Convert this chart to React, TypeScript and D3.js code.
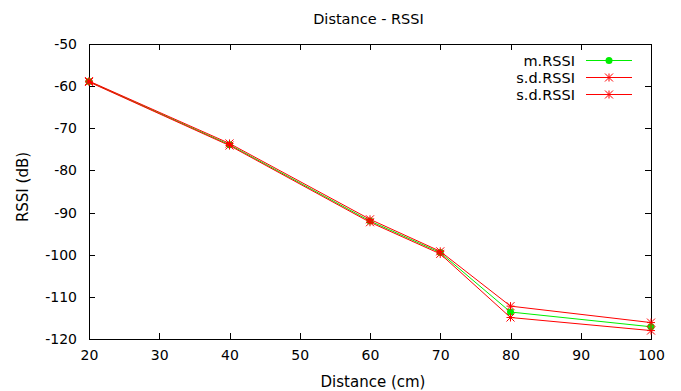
import { useRef, useEffect } from 'react';
import * as d3 from 'd3';

// distance (cm) and RSSI readings (dB)
const distances = [20, 40, 60, 70, 80, 100];
const meanRssi = [-58.9, -73.9, -92.0, -99.5, -113.6, -117.1];
const sdUpper = [-58.8, -73.6, -91.6, -99.2, -112.2, -116.1];
const sdLower = [-59.0, -74.1, -92.3, -99.8, -114.9, -118.0];

const xTicks = [20, 30, 40, 50, 60, 70, 80, 90, 100];
const yTicks = [-50, -60, -70, -80, -90, -100, -110, -120];

const legendLabels = ['m.RSSI', 's.d.RSSI', 's.d.RSSI'];

export default function App() {
  const ref = useRef<SVGSVGElement>(null);

  useEffect(() => {
    if (!ref.current) return;
    const width = 681;
    const height = 391;
    const svg = d3.select(ref.current);
    svg.selectAll('*').remove();

    const font = 'DejaVu Sans, sans-serif';
    const left = 89, right = 651, top = 44, bottom = 339;

    const x = d3.scaleLinear().domain([20, 100]).range([left, right]);
    const y = d3.scaleLinear().domain([-120, -50]).range([bottom, top]);

    svg.append('rect')
      .attr('width', width).attr('height', height).attr('fill', 'white');

    // ticks, mirrored on all sides, pointing inward
    const tl = 6;
    const g = svg.append('g').attr('stroke', 'black').attr('stroke-width', 1);
    xTicks.forEach(t => {
      const px = Math.round(x(t)) + 0.5;
      g.append('line').attr('x1', px).attr('x2', px).attr('y1', bottom).attr('y2', bottom - tl);
      g.append('line').attr('x1', px).attr('x2', px).attr('y1', top).attr('y2', top + tl);
    });
    yTicks.forEach(t => {
      const py = Math.round(y(t)) + 0.5;
      g.append('line').attr('x1', left).attr('x2', left + tl).attr('y1', py).attr('y2', py);
      g.append('line').attr('x1', right).attr('x2', right - tl).attr('y1', py).attr('y2', py);
    });

    svg.append('rect')
      .attr('x', left + 0.5).attr('y', top + 0.5)
      .attr('width', right - left).attr('height', bottom - top)
      .attr('fill', 'none').attr('stroke', 'black').attr('stroke-width', 1);

    const txt = svg.append('g').attr('font-family', font).attr('font-size', 14).attr('fill', 'black');
    xTicks.forEach(t => {
      txt.append('text').attr('x', x(t) + 0.5).attr('y', bottom + 21)
        .attr('text-anchor', 'middle').text(t);
    });
    yTicks.forEach(t => {
      txt.append('text').attr('x', left - 12).attr('y', y(t) + 5)
        .attr('text-anchor', 'end').text(t);
    });

    txt.append('text').attr('x', 368.5).attr('y', 24).attr('font-size', 14.5)
      .attr('text-anchor', 'middle').text('Distance - RSSI');
    txt.append('text').attr('x', 373).attr('y', 387).attr('font-size', 15)
      .attr('text-anchor', 'middle').text('Distance (cm)');
    txt.append('text').attr('transform', 'translate(28,187) rotate(-90)').attr('font-size', 15)
      .attr('text-anchor', 'middle').text('RSSI (dB)');

    const line = d3.line<number>()
      .x((_, i) => x(distances[i]))
      .y(d => y(d));

    const star = (sel: any, cx: number, cy: number, color: string) => {
      const r = 4;
      const p = `M${cx - r},${cy}H${cx + r}M${cx},${cy - r}V${cy + r}` +
        `M${cx - r},${cy - r}L${cx + r},${cy + r}M${cx - r},${cy + r}L${cx + r},${cy - r}`;
      sel.append('path').attr('d', p).attr('stroke', color).attr('stroke-width', 1).attr('fill', 'none');
    };

    const series = [
      { values: meanRssi, color: '#00ee00', marker: 'circle' },
      { values: sdUpper, color: '#ff0000', marker: 'star' },
      { values: sdLower, color: '#ff0000', marker: 'star' },
    ];

    series.forEach(s => {
      const sg = svg.append('g');
      sg.append('path').datum(s.values).attr('d', line)
        .attr('fill', 'none').attr('stroke', s.color).attr('stroke-width', 1);
      s.values.forEach((v, i) => {
        if (s.marker === 'circle') {
          sg.append('circle').attr('cx', x(distances[i])).attr('cy', y(v)).attr('r', 3.5).attr('fill', s.color);
        } else {
          star(sg, x(distances[i]), y(v), s.color);
        }
      });
    });

    // legend
    const lg = svg.append('g');
    series.forEach((s, i) => {
      const ly = 60.5 + i * 17;
      lg.append('text').attr('x', 575).attr('y', ly + 5)
        .attr('font-family', font).attr('font-size', 14.5).attr('text-anchor', 'end').text(legendLabels[i]);
      lg.append('line').attr('x1', 586).attr('x2', 632).attr('y1', ly).attr('y2', ly)
        .attr('stroke', s.color).attr('stroke-width', 1);
      if (s.marker === 'circle') {
        lg.append('circle').attr('cx', 609).attr('cy', ly).attr('r', 3.5).attr('fill', s.color);
      } else {
        star(lg, 609, ly, s.color);
      }
    });
  }, []);

  return <svg ref={ref} width={681} height={391} style={{ display: 'block', position: 'absolute', left: 0, top: 0 }}></svg>;
}
